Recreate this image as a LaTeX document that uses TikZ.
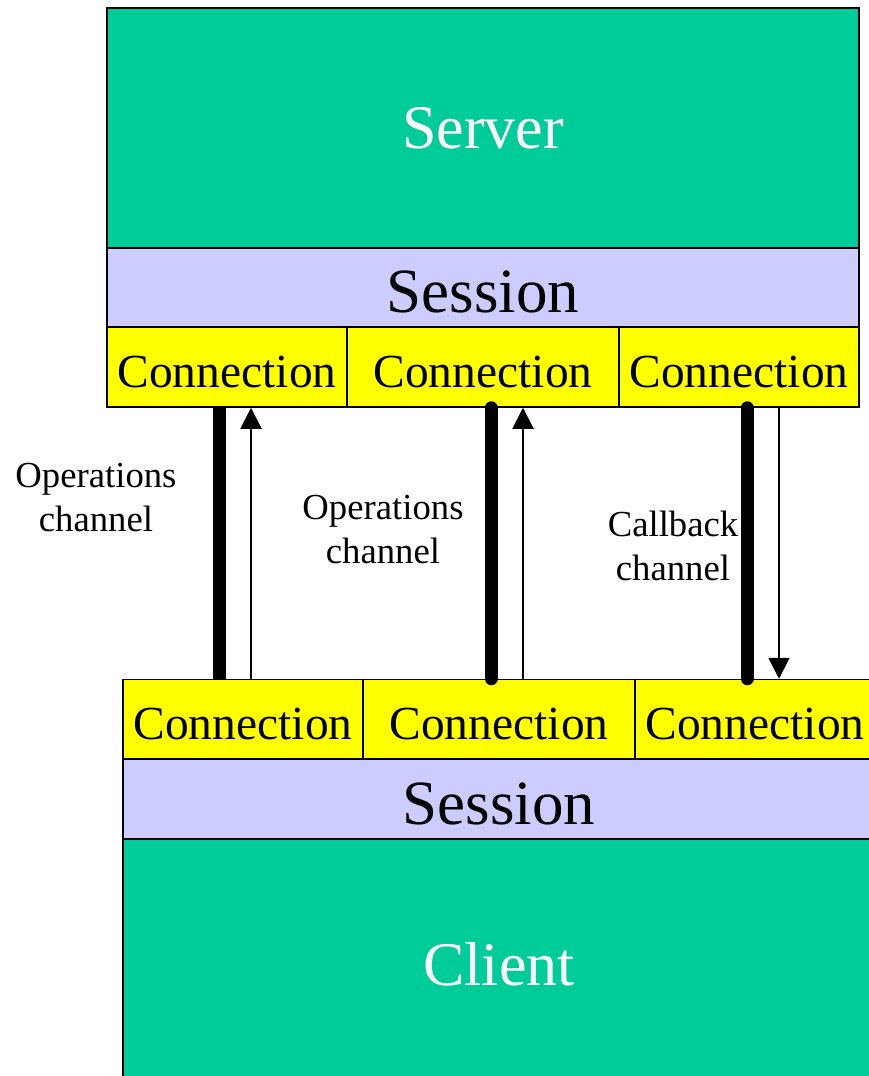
\documentclass[tikz,border=0pt]{standalone}
\usepackage{fontspec}
\setmainfont{Liberation Serif}
\usetikzlibrary{arrows.meta}
\definecolor{teal}{HTML}{00CC99}
\definecolor{lav}{HTML}{CCCCFF}
\definecolor{yel}{HTML}{FFFF00}
\begin{document}
\begin{tikzpicture}[x=1pt,y=-1pt,
  blk/.style={draw=black,line width=1.5pt,inner sep=0pt,anchor=center},
  hostbox/.style={blk,fill=teal,text=white,minimum width=752pt,font=\fontsize{62}{70}\selectfont},
  sessbox/.style={blk,fill=lav,minimum width=752pt,minimum height=79pt,text height=50pt,text depth=0pt,font=\fontsize{63}{70}\selectfont},
  connbox/.style={blk,fill=yel,minimum height=80pt,text height=40pt,text depth=0pt,font=\fontsize{47.5}{55}\selectfont},
  thickln/.style={line width=13pt},
  thinarr/.style={line width=2pt,-{Triangle[length=21pt,width=21pt]}},
  lbl/.style={align=center,font=\fontsize{36.7}{44}\selectfont,inner sep=0pt}]
\useasboundingbox (0,0) rectangle (869,1076);
\clip (0,0) rectangle (869,1076);
\fill[white] (0,0) rectangle (869,1076);
% top group
\node[hostbox,minimum height=240pt] (server) at (483,128) {Server};
\node[sessbox] (sesst) at (483,287.5) {Session};
\node[connbox,minimum width=240pt] (c1t) at (227,367) {Connection};
\node[connbox,minimum width=272pt] (c2t) at (483,367) {Connection};
\node[connbox,minimum width=240pt] (c3t) at (739,367) {Connection};
% bottom group
\node[connbox,minimum width=240pt] (c1b) at (243,719.5) {Connection};
\node[connbox,minimum width=272pt] (c2b) at (499,719.5) {Connection};
\node[connbox,minimum width=240pt] (c3b) at (755,719.5) {Connection};
\node[sessbox,minimum height=80pt] (sessb) at (499,799) {Session};
\node[hostbox,minimum height=250pt] (client) at (499,964) {Client};
% channels
\draw[thickln] ([xshift=-8pt]c1t.south) -- ([xshift=-24pt]c1b.north);
\draw[thinarr] ([xshift=8pt]c1b.north) -- ([xshift=24pt]c1t.south);
\draw[thickln,line cap=round] ([xshift=8pt]c2t.south) -- ([xshift=-8pt]c2b.north);
\draw[thinarr] ([xshift=24pt]c2b.north) -- ([xshift=40pt]c2t.south);
\draw[thickln,line cap=round] ([xshift=8pt]c3t.south) -- ([xshift=-8pt]c3b.north);
\draw[thinarr] ([xshift=40pt]c3t.south) -- ([xshift=24pt]c3b.north);
% labels
\node[lbl] (l1) at (96,498) {Operations\\channel};
\node[lbl] (l2) at (383,530) {Operations\\channel};
\node[lbl] (l3) at (673,546) {Callback\\channel};
\end{tikzpicture}
\end{document}
